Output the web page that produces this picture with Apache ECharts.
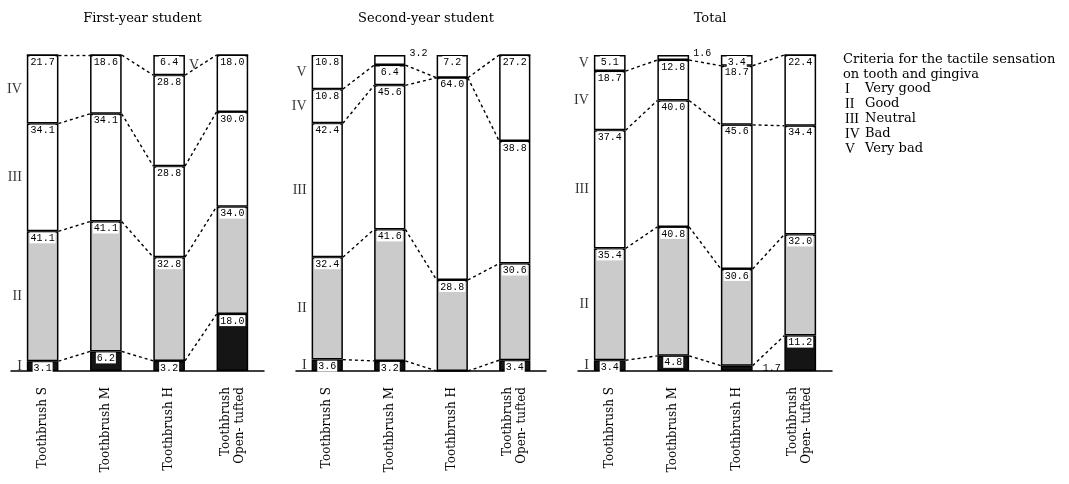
<!DOCTYPE html>
<html>
<head>
<meta charset="utf-8">
<title>Tactile sensation by toothbrush</title>
<script src="https://cdn.jsdelivr.net/npm/echarts@6/dist/echarts.min.js"></script>
<style>
  html, body { margin: 0; padding: 0; background: #fff; }
  #main { width: 1069px; height: 484px; }
</style>
</head>
<body>
<div id="main"></div>
<script>
// --- data (percent of answers) ---
const categories = ["Toothbrush S", "Toothbrush M", "Toothbrush H", "Toothbrush\nOpen- tufted"];
const levels = ["I", "II", "III", "IV", "V"];
const levelNames = ["Very good", "Good", "Neutral", "Bad", "Very bad"];
const panelTitles = ["First-year student", "Second-year student", "Total"];

// one row per level (I..V), one column per toothbrush
const firstYear = [
  [3.1, 6.2, 3.2, 18.0],
  [41.1, 41.1, 32.8, 34.0],
  [34.1, 34.1, 28.8, 30.0],
  [21.7, 18.6, 28.8, 18.0],
  [0, 0, 6.4, 0]
];
const secondYear = [
  [3.6, 3.2, 0, 3.4],
  [32.4, 41.6, 28.8, 30.6],
  [42.4, 45.6, 64.0, 38.8],
  [10.8, 6.4, 0, 27.2],
  [10.8, 3.2, 7.2, 0]
];
const total = [
  [3.4, 4.8, 1.7, 11.2],
  [35.4, 40.8, 30.6, 32.0],
  [37.4, 40.0, 45.6, 34.4],
  [18.7, 12.8, 18.7, 22.4],
  [5.1, 1.6, 3.4, 0]
];

document.addEventListener("DOMContentLoaded", function () {
  var chartDom = document.getElementById("main");
  var myChart = echarts.init(chartDom, null, { renderer: "canvas" });

  const panels = [firstYear, secondYear, total];
  const gridBoxes = [
    { left: 11, width: 253 },
    { left: 296, width: 250 },
    { left: 578, width: 254 }
  ];
  const fills = ["#151515", "#cbcbcb", "#ffffff", "#ffffff", "#ffffff"];
  const serif = "DejaVu Serif";
  const mono = "Liberation Mono";

  // labels that sit outside their (too thin) segment: panel-level-category
  const outsideLabels = {
    "1-4-1": { position: ["100%", -8], offset: [3, 0] },
    "2-4-1": { position: ["100%", -8], offset: [3, 0] },
    "2-0-2": { position: "right", distance: 9 }
  };

  var grid = [], xAxis = [], yAxis = [], series = [], title = [];

  panels.forEach(function (rows, p) {
    var box = gridBoxes[p];
    grid.push({ left: box.left, width: box.width, top: 55, height: 316 });

    title.push({
      text: panelTitles[p],
      left: box.left + box.width / 2,
      textAlign: "center",
      top: 7,
      textStyle: { fontFamily: serif, fontSize: 13, fontWeight: "normal", color: "#000" }
    });

    // category axis for the bars
    xAxis.push({
      type: "category",
      gridIndex: p,
      data: categories,
      axisLine: { show: true, lineStyle: { color: "#000", width: 1.5 } },
      axisTick: { show: false },
      axisLabel: {
        rotate: 90,
        interval: 0,
        margin: 16,
        fontFamily: serif,
        fontSize: 12,
        lineHeight: 14,
        color: "#000"
      },
      splitLine: { show: false }
    });
    // hidden value axis (same span) for the dashed connectors and numerals
    xAxis.push({
      type: "value",
      gridIndex: p,
      min: -0.5,
      max: 3.5,
      show: false
    });
    yAxis.push({
      type: "value",
      gridIndex: p,
      min: 0,
      max: 100,
      show: false
    });

    // cumulative tops of each segment
    var cum = rows.map(function () { return [0, 0, 0, 0]; });
    rows.forEach(function (row, l) {
      row.forEach(function (v, c) {
        cum[l][c] = (l > 0 ? cum[l - 1][c] : 0) + v;
      });
    });

    // stacked bars
    rows.forEach(function (row, l) {
      series.push({
        type: "bar",
        name: levels[l],
        xAxisIndex: p * 2,
        yAxisIndex: p,
        stack: "s" + p,
        barWidth: "50%",
        silent: true,
        itemStyle: { color: fills[l], borderColor: "#000", borderWidth: 1.5 },
        label: {
          show: true,
          position: "insideTop",
          distance: 1,
          fontFamily: mono,
          fontSize: 10,
          lineHeight: 10,
          color: "#000",
          backgroundColor: "#fff",
          padding: [1, 1, 0, 1],
          formatter: function (prm) { return prm.value.toFixed(1); }
        },
        data: row.map(function (v, c) {
          var item = { value: v };
          var key = p + "-" + l + "-" + c;
          if (v <= 0) {
            item.label = { show: false };
          } else if (outsideLabels[key]) {
            item.label = Object.assign({ backgroundColor: "transparent" }, outsideLabels[key]);
          }
          return item;
        })
      });
    });

    // dashed connectors between neighbouring bars, levels I..IV
    var links = [];
    for (var l = 0; l < 4; l++) {
      for (var c = 0; c < 3; c++) {
        links.push({ coords: [[c + 0.25, cum[l][c]], [c + 0.75, cum[l][c + 1]]] });
      }
    }
    series.push({
      type: "lines",
      coordinateSystem: "cartesian2d",
      xAxisIndex: p * 2 + 1,
      yAxisIndex: p,
      silent: true,
      lineStyle: { color: "#000", width: 1.4, type: [3, 3], opacity: 1 },
      data: links
    });

    // roman numerals beside the first bar that has the level
    var numerals = [];
    rows.forEach(function (row, l) {
      var c = row.findIndex(function (v) { return v > 0; });
      if (c < 0) return;
      var mid = cum[l][c] - row[c] / 2;
      if (c === 0) {
        numerals.push({ value: [-0.25, mid], label: { formatter: levels[l], position: "left", distance: 5 } });
      } else {
        numerals.push({ value: [c + 0.25, mid], label: { formatter: levels[l], position: "right", distance: 4 } });
      }
    });
    series.push({
      type: "scatter",
      xAxisIndex: p * 2 + 1,
      yAxisIndex: p,
      symbolSize: 0,
      silent: true,
      label: { show: true, fontFamily: "Liberation Serif", fontSize: 14, color: "#000" },
      data: numerals
    });
  });

  // legend block on the right, as plain text
  var legendText = [
    { left: 843, top: 53, text: "Criteria for the tactile sensation", family: serif, size: 13 },
    { left: 843, top: 68, text: "on tooth and gingiva", family: serif, size: 13 }
  ];
  levels.forEach(function (lv, i) {
    legendText.push({ left: 845, top: 82 + i * 15, text: lv, family: "Liberation Serif", size: 14 });
    legendText.push({ left: 865, top: 82 + i * 15, text: levelNames[i], family: serif, size: 13 });
  });

  var option = {
    backgroundColor: "#fff",
    animation: false,
    title: title,
    grid: grid,
    xAxis: xAxis,
    yAxis: yAxis,
    series: series,
    graphic: legendText.map(function (t) {
      return {
        type: "text",
        left: t.left,
        top: t.top,
        style: { text: t.text, fontFamily: t.family, fontSize: t.size, fill: "#000" }
      };
    })
  };

  myChart.setOption(option, true);
});
</script>
</body>
</html>
